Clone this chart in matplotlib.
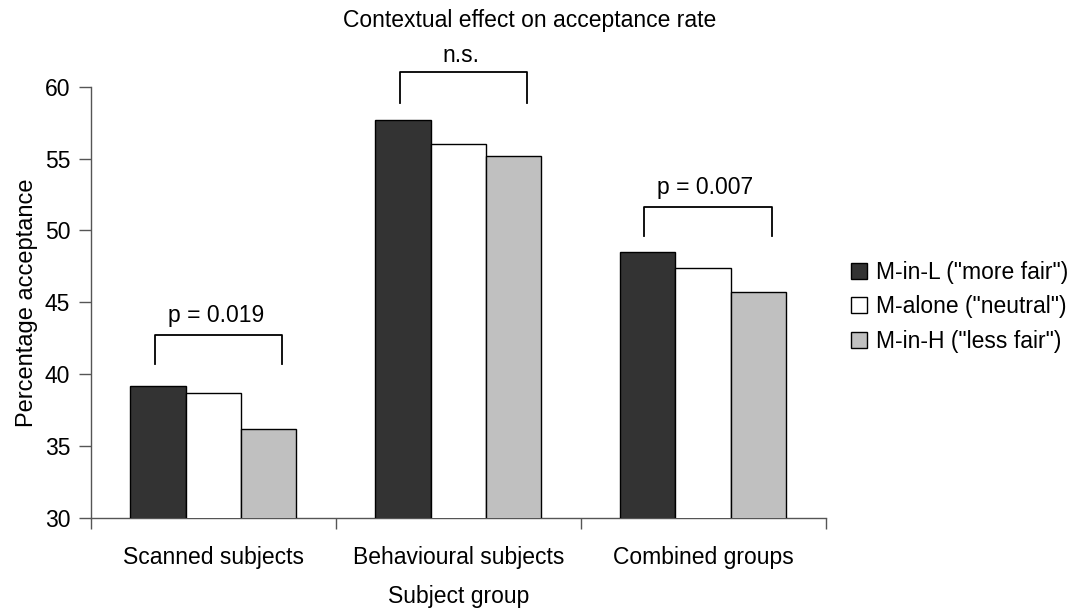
"""Bar chart: contextual effect on acceptance rate, by subject group."""

import matplotlib

matplotlib.use("Agg")
import matplotlib.pyplot as plt  # noqa: E402
import numpy as np  # noqa: E402

plt.rcParams["font.family"] = ["Liberation Sans", "DejaVu Sans"]

groups = ["Scanned subjects", "Behavioural subjects", "Combined groups"]
conditions = ['M-in-L ("more fair")', 'M-alone ("neutral")', 'M-in-H ("less fair")']
more_fair = [39.2, 57.7, 48.5]
neutral = [38.7, 56.0, 47.4]
less_fair = [36.2, 55.2, 45.7]
p_labels = ["p = 0.019", "n.s.", "p = 0.007"]
p_label_y = [43.6, 61.7, 52.55]
bracket_top = [42.75, 61.0, 51.6]
bracket_foot = [40.7, 58.9, 49.6]

colors = ["#333333", "#ffffff", "#c0c0c0"]
width = 0.226
x = np.arange(len(groups))
FS = 16.5

fig = plt.figure(figsize=(10.77, 6.15), dpi=100)
ax = fig.add_axes([0.0845, 0.158, 0.682, 0.701])

for i, (vals, c, lab) in enumerate(zip([more_fair, neutral, less_fair], colors, conditions)):
    ax.bar(x + (i - 1) * width, vals, width, bottom=0, color=c,
           edgecolor="black", linewidth=1.0, label=lab, zorder=3)

# significance brackets over each group
for xi, top, foot, txt, ty in zip(x, bracket_top, bracket_foot, p_labels, p_label_y):
    x0, x1 = xi - 0.24, xi + 0.28
    ax.plot([x0, x0, x1, x1], [foot, top, top, foot], color="black",
            linewidth=1.3, clip_on=False, zorder=4)
    ax.text((x0 + x1) / 2 - 0.01, ty, txt, ha="center", va="baseline",
            fontsize=FS, clip_on=False)

ax.set_xlim(-0.5, len(groups) - 0.5)
ax.set_ylim(30, 60)
ax.set_yticks(range(30, 61, 5))
ax.tick_params(axis="y", labelsize=FS, length=9, width=1, color="#555555", pad=6)

ax.set_xticks(x)
ax.set_xticklabels(groups, fontsize=FS)
ax.tick_params(axis="x", length=0, pad=20)
ax.set_xticks(np.arange(-0.5, len(groups)), minor=True)
ax.tick_params(axis="x", which="minor", length=8, width=1, color="#555555")

for side in ("top", "right"):
    ax.spines[side].set_visible(False)
for side in ("left", "bottom"):
    ax.spines[side].set_color("#555555")
    ax.spines[side].set_linewidth(1.0)

ax.set_xlabel("Subject group", fontsize=FS, labelpad=12)
ax.set_ylabel("Percentage acceptance", fontsize=17, labelpad=5)
fig.text(0.492, 0.967, "Contextual effect on acceptance rate", ha="center",
         va="center", fontsize=FS)

ax.legend(loc="center left", bbox_to_anchor=(1.006, 0.49), frameon=False,
          fontsize=FS, handlelength=0.7, handleheight=0.7, handletextpad=0.4,
          labelspacing=0.5)

fig.savefig("out.png", dpi=100)
